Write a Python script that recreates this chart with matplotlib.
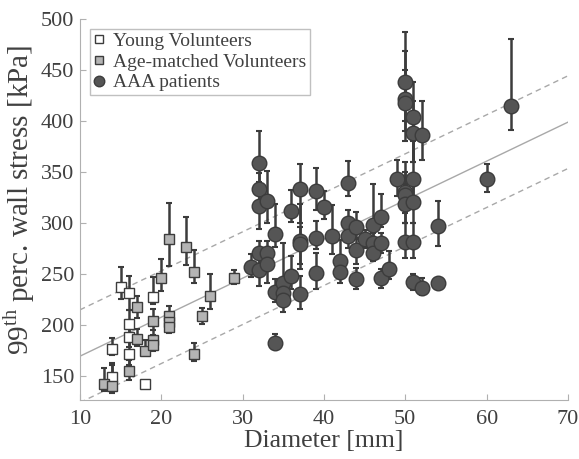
import numpy as np
import matplotlib
matplotlib.use("Agg")
import matplotlib.pyplot as plt

plt.rcParams['font.family'] = ['Liberation Serif', 'DejaVu Serif']
plt.rcParams['mathtext.fontset'] = 'custom'
plt.rcParams['mathtext.rm'] = 'Liberation Serif'

# Young volunteers: diameter [mm], 99th perc. stress [kPa], error bar low/high
young_d = [15, 16, 16, 16, 16, 14, 14, 18, 19]
young_s = [237, 231, 201, 188, 171, 176, 149, 142, 227]
young_lo = [225, 214, 190, 178, 160, 170, 143, 139, 220]
young_hi = [257, 248, 214, 201, 186, 187, 162, 145, 247]

# Age-matched volunteers
age_d = [13, 14, 16, 17, 17, 18, 19, 19, 19, 20, 21, 21, 21, 21, 23, 24, 24, 25, 26, 29]
age_s = [142, 140, 154, 217, 186, 174, 204, 185, 180, 246, 284, 208, 203, 198, 276, 252, 171, 208, 228, 246]
age_lo = [135, 133, 146, 207, 179, 170, 195, 176, 174, 233, 258, 200, 195, 192, 259, 241, 164, 201, 215, 240]
age_hi = [157, 160, 165, 228, 196, 185, 215, 195, 190, 264, 319, 218, 212, 206, 306, 273, 182, 216, 250, 254]

# AAA patients
aaa_d = [31, 32, 32, 32, 32, 32, 33, 33, 33, 34, 34, 34, 35, 35, 35, 36, 36,
         37, 37, 37, 37, 39, 39, 39, 40, 41, 42, 42, 43, 43, 43, 44, 44, 44,
         45, 46, 46, 46, 47, 47, 47, 48, 49, 50, 50, 50, 50, 50, 50, 50,
         51, 51, 51, 51, 51, 51, 52, 52, 54, 54, 60, 63]
aaa_s = [257, 359, 333, 316, 270, 254, 321, 270, 260, 289, 232, 182, 241, 231, 224, 312, 248,
         333, 282, 279, 230, 331, 285, 251, 315, 287, 262, 252, 339, 300, 287, 296, 273, 245,
         284, 298, 280, 270, 306, 280, 246, 255, 343, 438, 422, 418, 330, 327, 318, 281,
         404, 388, 343, 320, 281, 242, 386, 236, 297, 241, 343, 415]
aaa_lo = [247, 340, 318, 294, 258, 238, 300, 255, 241, 276, 222, 176, 230, 222, 212, 301, 235,
          300, 255, 260, 215, 313, 274, 235, 304, 269, 250, 241, 326, 290, 275, 284, 260, 235,
          275, 285, 270, 262, 296, 270, 236, 245, 326, 400, 390, 380, 310, 300, 300, 265,
          360, 360, 320, 300, 265, 234, 362, 229, 277, 236, 330, 391]
aaa_hi = [269, 390, 349, 330, 282, 265, 351, 282, 270, 318, 245, 191, 280, 245, 236, 332, 267,
          358, 318, 296, 248, 354, 302, 270, 331, 317, 283, 262, 361, 313, 297, 311, 285, 256,
          293, 338, 290, 278, 328, 290, 255, 272, 362, 487, 469, 450, 360, 350, 338, 300,
          438, 420, 380, 345, 300, 250, 420, 246, 321, 246, 358, 480]

# regression line and +/- band
fit_slope = 3.83
fit_icept = 130.7
band = 45.5

fig = plt.figure(figsize=(5.79, 4.59), dpi=100)
ax = fig.add_axes([0.138, 0.1285, 0.843, 0.830])

ecol = '#3c3c3c'
xl = np.array([10, 70])
yl = fit_icept + fit_slope * xl
ax.plot(xl, yl, color='#a8a8a8', lw=1.0, zorder=1)
ax.plot(xl, yl + band, color='#a8a8a8', lw=1.0, ls=(0, (4, 3)), zorder=1)
ax.plot(xl, yl - band, color='#a8a8a8', lw=1.0, ls=(0, (4, 3)), zorder=1)


def draw_group(d, s, lo, hi, marker, face, ms, label):
    s = np.array(s)
    err = [s - np.array(lo), np.array(hi) - s]
    ax.errorbar(d, s, yerr=err, fmt='none', ecolor=ecol, elinewidth=1.8,
                capsize=2.5, capthick=1.5, zorder=2)
    ax.plot(d, s, ls='none', marker=marker, ms=ms, mfc=face, mec=ecol,
            mew=1.0, zorder=3, label=label)


draw_group(young_d, young_s, young_lo, young_hi, 's', 'white', 7.8, 'Young Volunteers')
draw_group(age_d, age_s, age_lo, age_hi, 's', '#b4b4b4', 7.8, 'Age-matched Volunteers')
draw_group(aaa_d, aaa_s, aaa_lo, aaa_hi, 'o', '#555555', 10.5, 'AAA patients')

ax.set_xlim(10, 70)
ax.set_ylim(126, 500)
ax.set_xticks(np.arange(10, 71, 10))
ax.set_yticks(np.arange(150, 501, 50))
ax.spines['top'].set_visible(False)
ax.spines['right'].set_visible(False)
for sp in ['left', 'bottom']:
    ax.spines[sp].set_color('#b0b0b0')
ax.tick_params(direction='in', length=4, color='#b0b0b0', labelcolor='#404040',
               labelsize=16, pad=4)
ax.tick_params(axis='x', pad=7)
ax.set_xlabel('Diameter [mm]', fontsize=18.5, color='#404040', labelpad=1)
ax.set_ylabel(r'99$^{\rm th}$ perc. wall stress [kPa]', fontsize=21, color='#404040')
ax.yaxis.set_label_coords(-0.088, 0.525)

leg = ax.legend(loc='upper left', bbox_to_anchor=(0.0, 1.0), fontsize=14,
                handlelength=0.6, handletextpad=0.4, borderpad=0.2, labelspacing=0.15,
                fancybox=False, framealpha=1, markerscale=0.72, borderaxespad=0.5)
leg.get_frame().set_edgecolor('#c0c0c0')
leg.get_frame().set_linewidth(1.0)
for t in leg.get_texts():
    t.set_color('#404040')

fig.savefig('out.png', dpi=100)
